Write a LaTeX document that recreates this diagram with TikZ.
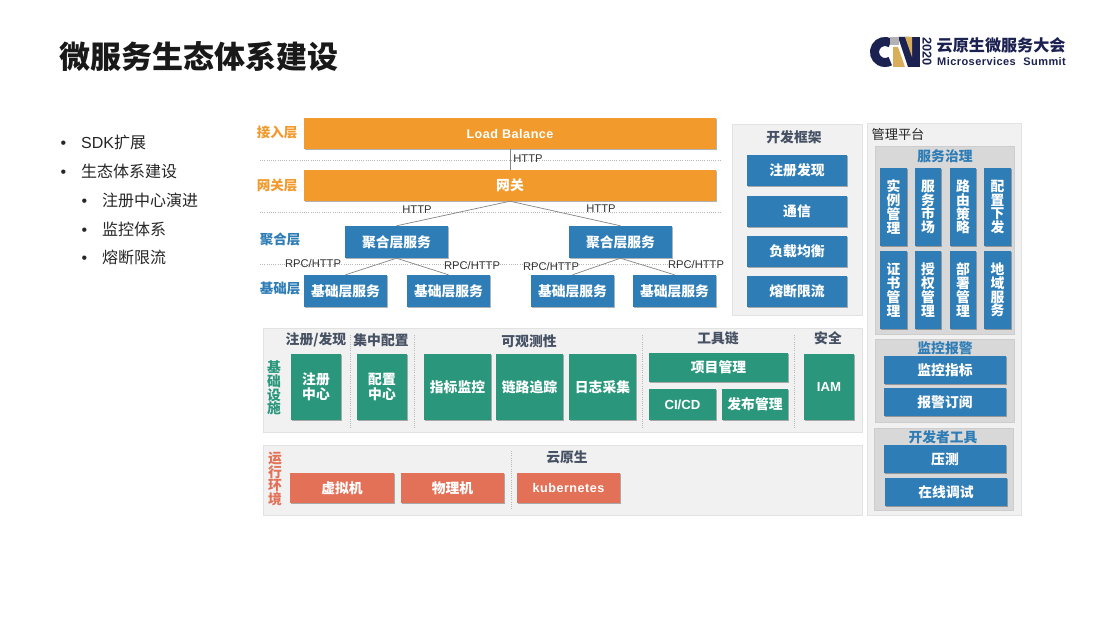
\documentclass[tikz,border=0pt]{standalone}
\usepackage{fontspec}
\usetikzlibrary{shadows}
\setmainfont{Liberation Sans}
\newfontfamily\cjk{Noto Sans CJK SC}
\newfontfamily\latsp[LetterSpace=4]{Liberation Sans}
\newcommand\fz[1]{\fontsize{#1}{#1}\selectfont}
\definecolor{orangeb}{HTML}{F29A2C}
\definecolor{blueb}{HTML}{2E7DB6}
\definecolor{greenb}{HTML}{2A977D}
\definecolor{redb}{HTML}{E37158}
\definecolor{panelf}{HTML}{F1F1F1}
\definecolor{paneld}{HTML}{E2E2E2}
\definecolor{innerf}{HTML}{D8D8D8}
\definecolor{innerd}{HTML}{CDCDCD}
\definecolor{slatet}{HTML}{465163}
\definecolor{navy}{HTML}{1B2150}
\definecolor{gold}{HTML}{D9AE5A}
\tikzset{
  x=1pt,y=-1pt,
  solidbox/.style={draw=none,inner sep=0pt,align=center,text=white,
    font=\cjk\bfseries\fz{13.8},
    drop shadow={shadow xshift=.7pt,shadow yshift=-.7pt,fill=black,opacity=.3}},
  obox/.style={solidbox,fill=orangeb},
  bbox/.style={solidbox,fill=blueb},
  gbox/.style={solidbox,fill=greenb},
  rbox/.style={solidbox,fill=redb},
  vbox/.style={bbox,font=\cjk\bfseries\fontsize{13.8}{13.8}\selectfont},
  panel/.style={draw=paneld,line width=.8pt,fill=panelf,inner sep=0pt},
  inner/.style={draw=innerd,line width=.8pt,fill=innerf,inner sep=0pt},
  dotsep/.style={draw=black!28,line width=.5pt,dash pattern=on .8pt off 1.4pt},
  link/.style={draw=black!48,line width=.7pt},
  proto/.style={inner sep=0pt,font=\fz{11.2},text=black!80},
  layerO/.style={inner sep=0pt,font=\cjk\bfseries\fz{13.5},text=orangeb},
  layerB/.style={inner sep=0pt,font=\cjk\bfseries\fz{13.5},text=blueb},
  sect/.style={inner sep=0pt,font=\cjk\bfseries\fz{13.8},text=slatet},
  secb/.style={inner sep=0pt,font=\cjk\bfseries\fz{13.8},text=blueb},
  vlabG/.style={inner sep=0pt,align=center,font=\cjk\bfseries\fontsize{13.8}{13.6}\selectfont,text=greenb},
  vlabR/.style={inner sep=0pt,align=center,font=\cjk\bfseries\fontsize{13.8}{13.6}\selectfont,text=redb},
  bul/.style={inner sep=0pt,anchor=west,font=\fz{16},text=black!85},
}
% #1 style, #2 name, #3-#6 x0,y0,x1,y1, #7 text
\newcommand\bx[7]{%
  \pgfmathsetmacro\bw{#5-#3}\pgfmathsetmacro\bh{#6-#4}%
  \pgfmathsetmacro\bcx{(#3+#5)/2}\pgfmathsetmacro\bcy{(#4+#6)/2}%
  \node[#1,minimum width=\bw pt,minimum height=\bh pt] (#2) at (\bcx,\bcy) {#7};}
\begin{document}
\begin{tikzpicture}
\useasboundingbox (0,0) rectangle (1098,618);
\fill[white] (0,0) rectangle (1098,618);

% title
\node[inner sep=0pt,anchor=west,font=\cjk\bfseries\fz{31},text=black!90] (title) at (59,57) {微服务生态体系建设};

% logo
\begin{scope}
\draw[navy,line width=9pt] (890.25,42.9) arc[start angle=-60,end angle=-300,radius=10.5];
\fill[gold] (893,47) -- (898,47) -- (905,67) -- (893,67) -- cycle;
\fill[navy] (898,37) -- (909,37) -- (920,67) -- (908,67) -- cycle;
\fill[navy] (912,37) rectangle (920,67);
\fill[gold] (905,37) -- (912,37) -- (912,57) -- cycle;
\fill[black!30] (890,37) rectangle (899,45);
\end{scope}
\node[inner sep=0pt,rotate=-90,font=\bfseries\fz{12.8},text=navy] (y2020) at (927,51.5) {2020};
\node[inner sep=0pt,anchor=west,font=\cjk\bfseries\fz{16.1},text=navy] (logoa) at (936.5,45) {云原生微服务大会};
\node[inner sep=0pt,anchor=west,font=\latsp\bfseries\fz{11},text=navy] (logob) at (937,62) {Microservices\hspace{4pt} Summit};

% bullets
\node[bul] (b1d) at (60.5,145) {•};
\node[bul] (b1) at (81,142) {SDK{\cjk 扩展}};
\node[bul] (b2d) at (60.5,174) {•};
\node[bul] (b2) at (81,171) {\cjk 生态体系建设};
\node[bul] (b3d) at (81.5,203) {•};
\node[bul] (b3) at (102,200) {\cjk 注册中心演进};
\node[bul] (b4d) at (81.5,232) {•};
\node[bul] (b4) at (102,229) {\cjk 监控体系};
\node[bul] (b5d) at (81.5,260) {•};
\node[bul] (b5) at (102,257) {\cjk 熔断限流};

% layer separators
\coordinate (s1a) at (260,160); \coordinate (s1b) at (722,160);
\coordinate (s2a) at (260,212); \coordinate (s2b) at (722,212);
\coordinate (s3a) at (260,264); \coordinate (s3b) at (722,264);
\draw[dotsep] (s1a) -- (s1b);
\draw[dotsep] (s2a) -- (s2b);
\draw[dotsep] (s3a) -- (s3b);

% layer labels
\node[layerO] (l1) at (277,132) {接入层};
\node[layerO] (l2) at (277,185) {网关层};
\node[layerB] (l3) at (280,239) {聚合层};
\node[layerB] (l4) at (280,288) {基础层};

% service tiers
\bx{obox}{lb}{304}{118}{716}{149}{\latsp\bfseries\fz{12.6}Load Balance}
\bx{obox}{gw}{304}{170}{716}{201}{网关}
\bx{bbox}{ag1}{345}{226}{448}{258}{聚合层服务}
\bx{bbox}{ag2}{569}{226}{672}{258}{聚合层服务}
\bx{bbox}{ba1}{304}{275}{387}{307}{基础层服务}
\bx{bbox}{ba2}{407}{275}{490}{307}{基础层服务}
\bx{bbox}{ba3}{531}{275}{614}{307}{基础层服务}
\bx{bbox}{ba4}{633}{275}{716}{307}{基础层服务}
\draw[link] (lb.south) -- (gw.north);
\draw[link] (gw.south) -- (ag1.north);
\draw[link] (gw.south) -- (ag2.north);
\draw[link] (ag1.south) -- (ba1.north);
\draw[link] (ag1.south) -- (ba2.north);
\draw[link] (ag2.south) -- (ba3.north);
\draw[link] (ag2.south) -- (ba4.north);
\node[proto] (h1) at (528,159) {HTTP};
\node[proto] (h2) at (417,210) {HTTP};
\node[proto] (h3) at (601,209) {HTTP};
\node[proto] (r1) at (313,263) {RPC/HTTP};
\node[proto] (r2) at (472,265) {RPC/HTTP};
\node[proto] (r3) at (551,266) {RPC/HTTP};
\node[proto] (r4) at (696,264) {RPC/HTTP};

% dev framework
\bx{panel}{fw}{732}{124}{862}{315}{}
\node[sect] (fwt) at (794,137) {开发框架};
\bx{bbox}{fw1}{747}{155}{847}{186}{注册发现}
\bx{bbox}{fw2}{747}{196}{847}{227}{通信}
\bx{bbox}{fw3}{747}{236}{847}{267}{负载均衡}
\bx{bbox}{fw4}{747}{276}{847}{307}{熔断限流}

% management platform
\bx{panel}{mg}{867}{123}{1021}{515}{}
\node[inner sep=0pt,font=\cjk\fz{13.2},text=black!85] (mgt) at (898,134) {管理平台};
\bx{inner}{gov}{875}{146}{1014}{334}{}
\node[secb] (govt) at (945,156) {服务治理};
\bx{vbox}{v1}{880}{168}{907}{246}{实\\例\\管\\理}
\bx{vbox}{v2}{915}{168}{941}{246}{服\\务\\市\\场}
\bx{vbox}{v3}{950}{168}{976}{246}{路\\由\\策\\略}
\bx{vbox}{v4}{984}{168}{1011}{246}{配\\置\\下\\发}
\bx{vbox}{v5}{880}{251}{907}{329}{证\\书\\管\\理}
\bx{vbox}{v6}{915}{251}{941}{329}{授\\权\\管\\理}
\bx{vbox}{v7}{950}{251}{976}{329}{部\\署\\管\\理}
\bx{vbox}{v8}{984}{251}{1011}{329}{地\\域\\服\\务}
\bx{inner}{mon}{875}{339}{1014}{422}{}
\node[secb] (mont) at (945,348) {监控报警};
\bx{bbox}{mon1}{884}{356}{1006}{384}{监控指标}
\bx{bbox}{mon2}{884}{388}{1006}{416}{报警订阅}
\bx{inner}{dev}{874}{428}{1013}{510}{}
\node[secb] (devt) at (943,437) {开发者工具};
\bx{bbox}{dev1}{884}{445}{1006}{473}{压测}
\bx{bbox}{dev2}{885}{478}{1007}{506}{在线调试}

% infrastructure
\bx{panel}{inf}{263}{328}{862}{432}{}
\node[vlabG] (inft) at (274,388) {基\\础\\设\\施};
\node[sect] (i1) at (316,340) {注册/发现};
\node[sect] (i2) at (381,340) {集中配置};
\node[sect] (i3) at (529,341) {可观测性};
\node[sect] (i4) at (718,338) {工具链};
\node[sect] (i5) at (828,338) {安全};
\coordinate (d1a) at (350,335); \coordinate (d1b) at (350,428);
\coordinate (d2a) at (414,335); \coordinate (d2b) at (414,428);
\coordinate (d3a) at (642,335); \coordinate (d3b) at (642,428);
\coordinate (d4a) at (794,335); \coordinate (d4b) at (794,428);
\draw[dotsep] (d1a) -- (d1b);
\draw[dotsep] (d2a) -- (d2b);
\draw[dotsep] (d3a) -- (d3b);
\draw[dotsep] (d4a) -- (d4b);
\bx{gbox}{g1}{291}{354}{341}{420}{注册\\[1pt]中心}
\bx{gbox}{g2}{357}{354}{407}{420}{配置\\[1pt]中心}
\bx{gbox}{g3}{424}{354}{491}{420}{指标监控}
\bx{gbox}{g4}{496}{354}{563}{420}{链路追踪}
\bx{gbox}{g5}{569}{354}{636}{420}{日志采集}
\bx{gbox}{g6}{649}{353}{788}{382}{项目管理}
\bx{gbox}{g7}{649}{389}{716}{420}{\rmfamily\bfseries\fz{13.2}CI/CD}
\bx{gbox}{g8}{722}{389}{788}{420}{发布管理}
\bx{gbox}{g9}{804}{354}{854}{420}{\rmfamily\bfseries\fz{13.2}IAM}

% runtime
\bx{panel}{rt}{263}{445}{862}{515}{}
\node[vlabR] (rtt) at (275,479) {运\\行\\环\\境};
\coordinate (d5a) at (511,451); \coordinate (d5b) at (511,510);
\draw[dotsep] (d5a) -- (d5b);
\node[sect] (rt3) at (567,457) {云原生};
\bx{rbox}{k1}{290}{473}{394}{503}{虚拟机}
\bx{rbox}{k2}{401}{473}{504}{503}{物理机}
\bx{rbox}{k3}{517}{473}{620}{503}{\latsp\bfseries\fz{12.6}kubernetes}
\end{tikzpicture}
\end{document}
